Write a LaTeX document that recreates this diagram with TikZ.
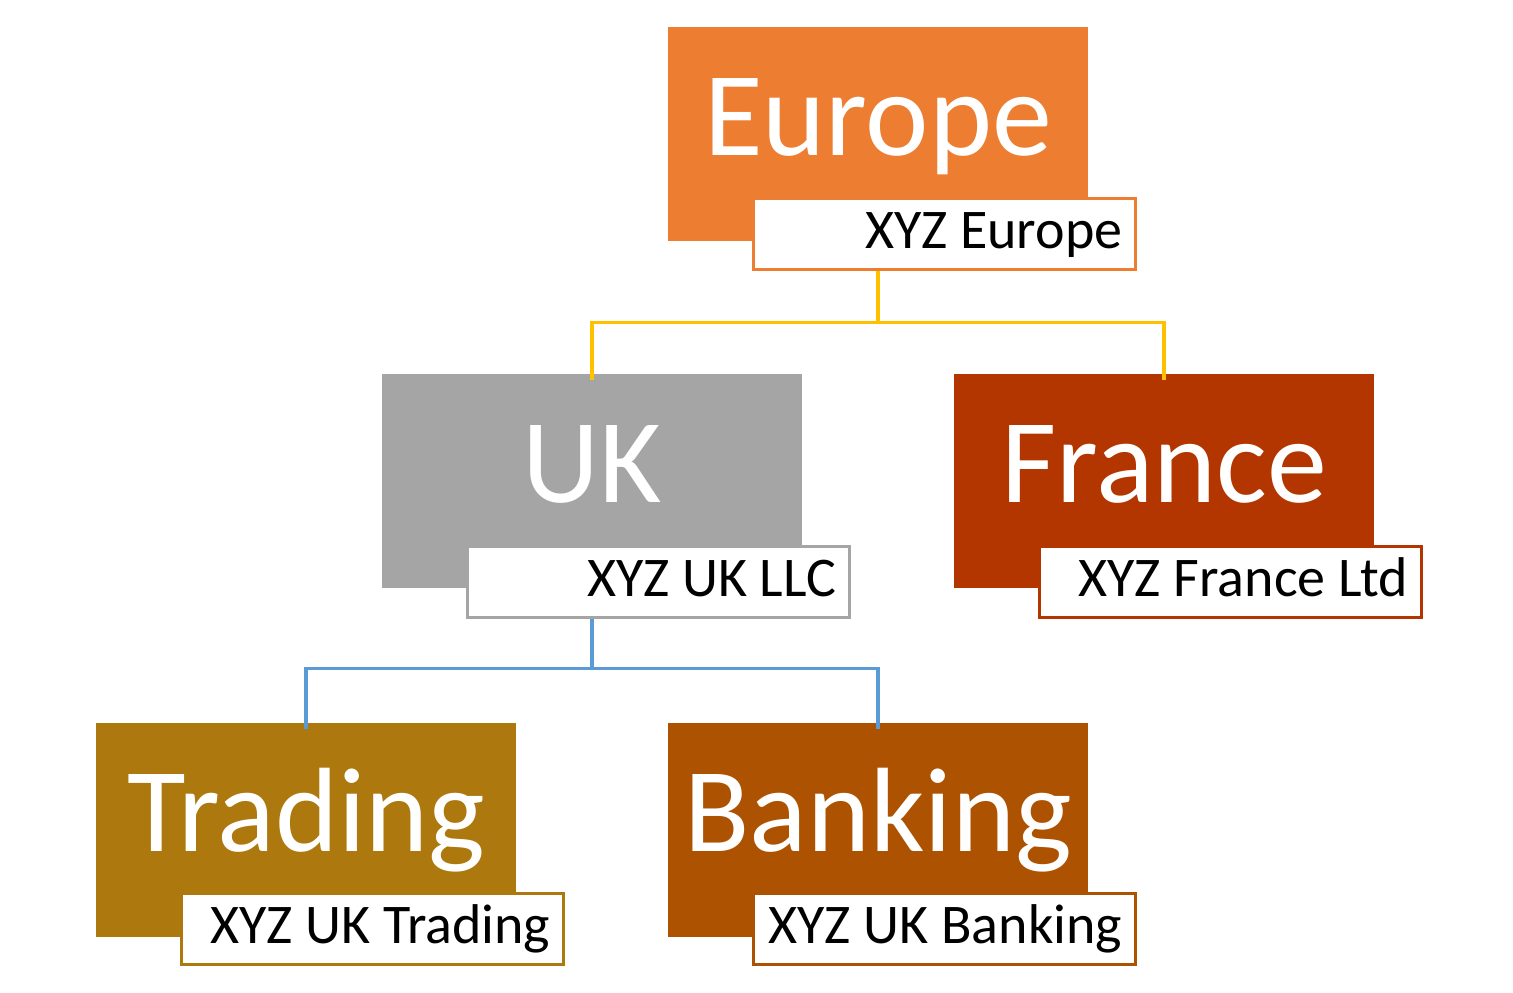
\documentclass[tikz,border=0pt]{standalone}
\usepackage{fontspec}
\setmainfont{Carlito}
\definecolor{cEu}{HTML}{ED7D31}
\definecolor{cUK}{HTML}{A5A5A5}
\definecolor{cFr}{HTML}{B33500}
\definecolor{cTr}{HTML}{AD780E}
\definecolor{cBa}{HTML}{AD5200}
\definecolor{cL1}{HTML}{FFC000}
\definecolor{cL2}{HTML}{5B9BD5}
\begin{document}
\begin{tikzpicture}[x=1pt,y=-1pt,
  big/.style={fill=#1,draw=none,anchor=north west,minimum width=420pt,minimum height=214pt,inner sep=0},
  lab/.style={fill=white,draw=#1,line width=3pt,anchor=north west,minimum width=382pt,minimum height=71pt,inner sep=0},
  ttl/.style={text=white,anchor=base,font=\fontsize{120}{120}\selectfont,inner sep=0},
  sub/.style={text=black,anchor=base east,font=\fontsize{56}{56}\selectfont,inner sep=0},
  conn/.style={draw=#1,line width=3.5pt}]
\useasboundingbox (0,0) rectangle (1513,993);
% boxes
\node[big=cEu] (eu) at (668,27) {};
\node[big=cUK] (uk) at (382,374) {};
\node[big=cFr] (fr) at (954,374) {};
\node[big=cTr] (tr) at (96,723) {};
\node[big=cBa] (ba) at (668,723) {};
% titles
\node[ttl] (eut) at ([yshift=-128pt]eu.north) {Europe};
\node[ttl] (ukt) at ([yshift=-128pt]uk.north) {UK};
\node[ttl] (frt) at ([yshift=-128pt]fr.north) {France};
\node[ttl] (trt) at ([yshift=-128pt]tr.north) {Trading};
\node[ttl] (bat) at ([yshift=-128pt]ba.north) {Banking};
% label boxes
\node[lab=cEu] (eul) at (751.5,196.5) {};
\node[lab=cUK] (ukl) at (465.5,544.5) {};
\node[lab=cFr] (frl) at (1037.5,544.5) {};
\node[lab=cTr] (trl) at (179.5,891.5) {};
\node[lab=cBa] (bal) at (751.5,891.5) {};
% label texts
\node[sub] (eus) at ([xshift=-14pt,yshift=-52pt]eul.north east) {XYZ Europe};
\node[sub] (uks) at ([xshift=-14pt,yshift=-52pt]ukl.north east) {XYZ UK LLC};
\node[sub] (frs) at ([xshift=-14pt,yshift=-52pt]frl.north east) {XYZ France Ltd};
\node[sub] (trs) at ([xshift=-14pt,yshift=-52pt]trl.north east) {XYZ UK Trading};
\node[sub] (bas) at ([xshift=-14pt,yshift=-52pt]bal.north east) {XYZ UK Banking};
% connectors
\draw[conn=cL1] (eu.south |- eul.south) -- ++(0,52) -| ([yshift=-6pt]uk.north);
\draw[conn=cL1] (eu.south |- eul.south) -- ++(0,52) -| ([yshift=-6pt]fr.north);
\draw[conn=cL2] (uk.south |- ukl.south) -- ++(0,50) -| ([yshift=-6pt]tr.north);
\draw[conn=cL2] (uk.south |- ukl.south) -- ++(0,50) -| ([yshift=-6pt]ba.north);
\end{tikzpicture}
\end{document}
